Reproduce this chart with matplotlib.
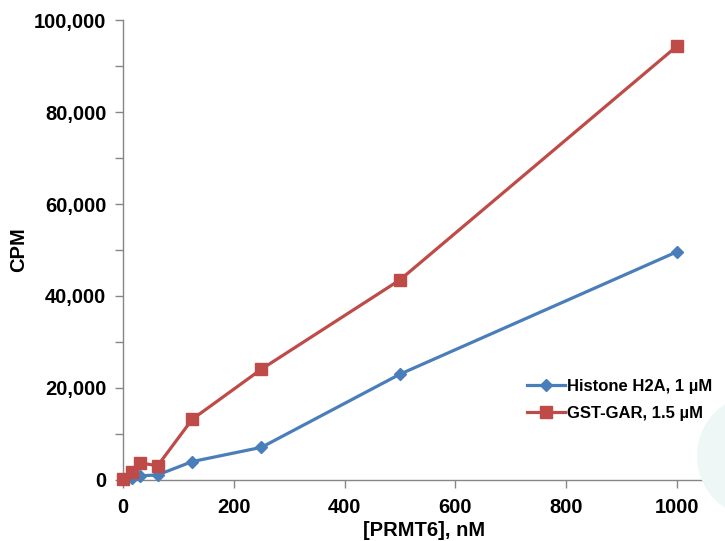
import matplotlib
matplotlib.use("Agg")
import matplotlib.pyplot as plt
from matplotlib.patches import Circle
from matplotlib.ticker import MultipleLocator, FuncFormatter

plt.rcParams["font.family"] = ["Liberation Sans", "DejaVu Sans"]
plt.rcParams["font.weight"] = "bold"

# --- data ---
prmt6_nM = [0, 15.6, 31.25, 62.5, 125, 250, 500, 1000]
histone_h2a = [200, 400, 900, 1100, 4000, 7100, 23000, 49600]
gst_gar = [300, 1800, 3700, 3100, 13200, 24100, 43500, 94300]

blue = "#4a7ebb"
red = "#be4b48"
grey = "#868686"

fig = plt.figure(figsize=(7.25, 5.41), dpi=100)

# faint watermark circle at bottom right (display coords, origin bottom-left)
fig.patches.append(Circle((759, 541 - 456), 62, transform=None, facecolor="#eef6f6",
                          edgecolor="none", zorder=0))

ax = fig.add_axes([0.1697, 0.1128, 0.8303, 0.8502])
ax.patch.set_alpha(0)

ax.plot(prmt6_nM, histone_h2a, color=blue, lw=2.3, marker="D", ms=6.5,
        label="Histone H2A, 1 µM", zorder=3, clip_on=False)
ax.plot(prmt6_nM, gst_gar, color=red, lw=2.3, marker="s", ms=8.3,
        label="GST-GAR, 1.5 µM", zorder=3, clip_on=False)

ax.set_xlim(0, 1087)
ax.set_ylim(0, 100000)
ax.xaxis.set_major_locator(MultipleLocator(200))
ax.yaxis.set_major_locator(MultipleLocator(20000))
ax.yaxis.set_minor_locator(MultipleLocator(10000))
ax.yaxis.set_major_formatter(FuncFormatter(lambda v, p: f"{int(v):,}"))

for s in ["top", "right"]:
    ax.spines[s].set_visible(False)
for s in ["left", "bottom"]:
    ax.spines[s].set_color(grey)
    ax.spines[s].set_linewidth(1.0)

ax.tick_params(axis="both", which="both", colors=grey, length=6, width=1.0,
               labelcolor="black", labelsize=14.5)
ax.tick_params(axis="x", pad=7)
ax.tick_params(axis="y", pad=6)

ax.set_xlabel("[PRMT6], nM", fontsize=14.5, fontweight="bold", labelpad=3)
ax.set_ylabel("CPM", fontsize=14.5, fontweight="bold", labelpad=4)

ax.legend(loc="upper left", bbox_to_anchor=(0.66, 0.235), frameon=False,
          fontsize=12, handlelength=2.3, handletextpad=0.1, labelspacing=0.75,
          borderaxespad=0)

fig.savefig("out.png", dpi=100)
